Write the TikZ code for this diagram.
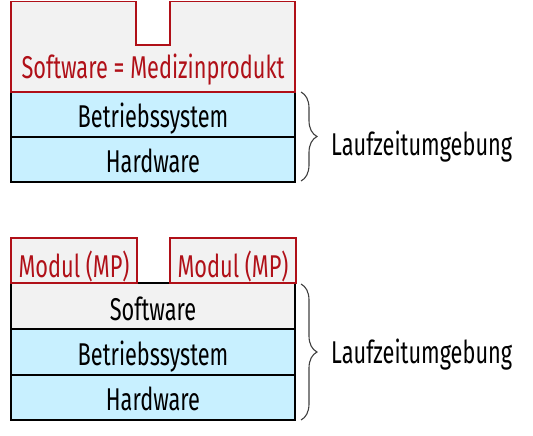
\documentclass[tikz,border=0pt]{standalone}
\usepackage{fontspec}
\setmainfont[FakeStretch=0.69]{Fira Sans}
\usetikzlibrary{decorations.pathreplacing}
\definecolor{mpred}{HTML}{B01018}
\definecolor{layercyan}{HTML}{C8F0FF}
\definecolor{swgray}{HTML}{F2F2F2}
\tikzset{
  x=1pt, y=-1pt,
  layer/.style={draw=black, line width=2pt, fill=layercyan, minimum width=284pt, minimum height=45.5pt, inner sep=0pt, outer sep=0pt},
  swlayer/.style={layer, fill=swgray},
  module/.style={draw=mpred, line width=1.6pt, fill=swgray, minimum width=126pt, minimum height=45pt, inner sep=0pt, outer sep=0pt},
  lbl/.style={anchor=base, inner sep=0pt, font=\fontsize{31.5}{33}\selectfont},
  redlbl/.style={lbl, text=mpred},
  bracestyle/.style={decorate, decoration={brace, amplitude=16pt, aspect=0.5}, draw=black!75, line width=1.1pt},
}
\begin{document}
\begin{tikzpicture}
\useasboundingbox (0,0) rectangle (533,436);
% ---------- top stack ----------
\node[layer] (bs1) at (153,114.5) {};
\node[layer] (hw1) at (153,159.5) {};
\draw[mpred, line width=1.6pt, fill=swgray] (11,92) -- (11,1.5) -- (136,1.5) -- (136,45) -- (170,45) -- (170,1.5) -- (295,1.5) -- (295,92) -- cycle;
\node[redlbl] (sw1) at (153,78) {Software = Medizinprodukt};
\node[lbl] (bs1t) at (153,127) {Betriebssystem};
\node[lbl] (hw1t) at (153,172.5) {Hardware};
\coordinate (b1top) at (301,92);
\coordinate (b1bot) at (301,181);
\draw[bracestyle] (b1top) -- (b1bot);
\node[lbl, anchor=base west] (lz1) at (331,155.5) {Laufzeitumgebung};
% ---------- bottom stack ----------
\node[swlayer] (sw2) at (153,306) {};
\node[layer] (bs2) at (153,352) {};
\node[layer] (hw2) at (153,397.5) {};
\node[module] (m1) at (74,260.5) {};
\node[module] (m2) at (233,260.5) {};
\node[redlbl] (m1t) at (m1.center |- 0,277.5) {Modul (MP)};
\node[redlbl] (m2t) at (m2.center |- 0,277.5) {Modul (MP)};
\node[lbl] (sw2t) at (153,320.5) {Software};
\node[lbl] (bs2t) at (153,365.5) {Betriebssystem};
\node[lbl] (hw2t) at (153,410.5) {Hardware};
\coordinate (b2top) at (301,284);
\coordinate (b2bot) at (301,420);
\draw[bracestyle] (b2top) -- (b2bot);
\node[lbl, anchor=base west] (lz2) at (331,363) {Laufzeitumgebung};
\end{tikzpicture}
\end{document}
